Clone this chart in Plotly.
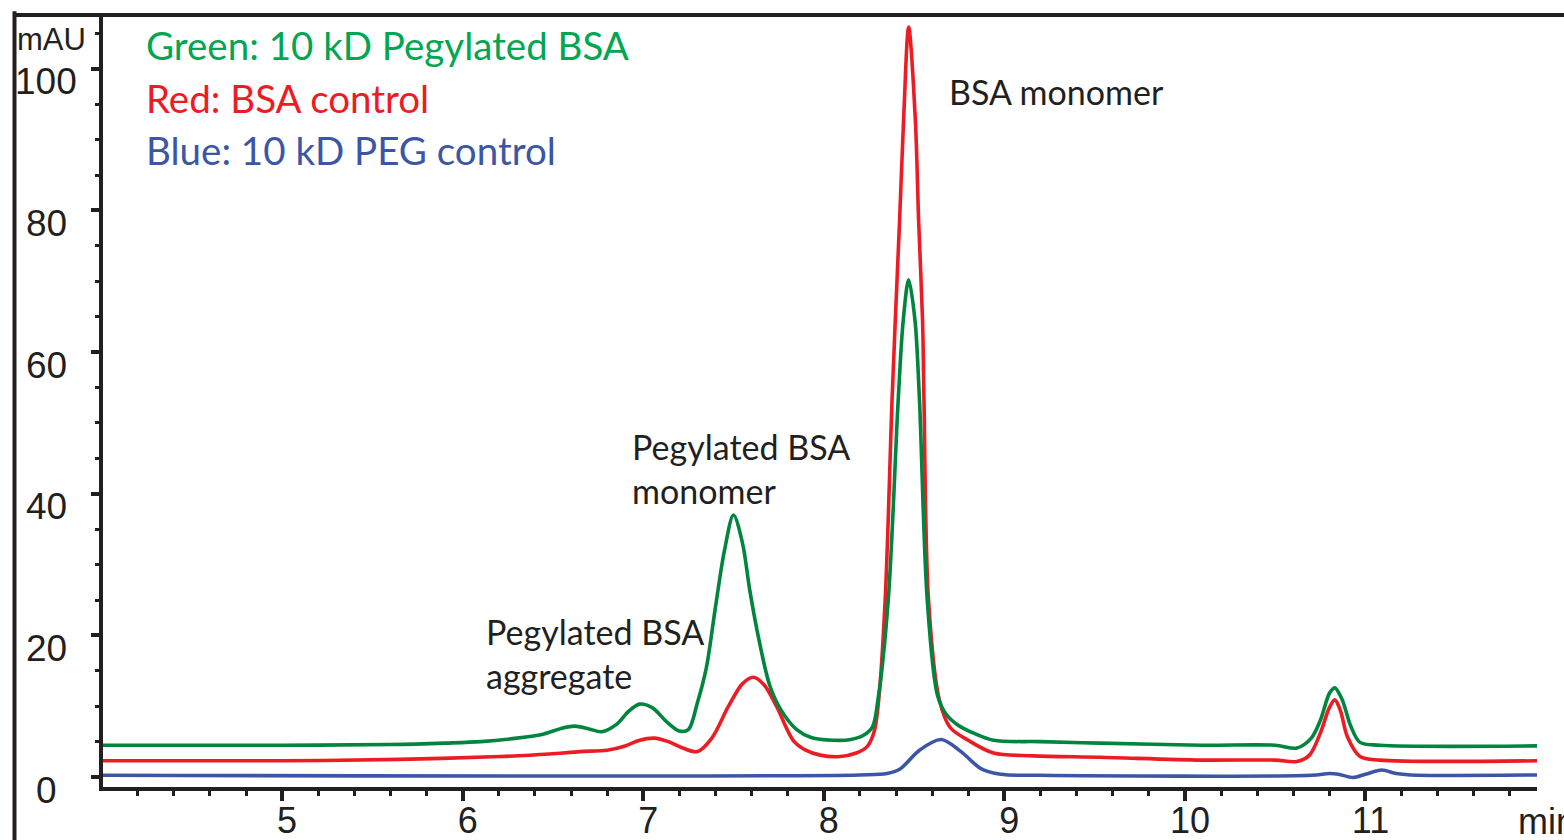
import plotly.graph_objects as go

# ---------------- data (time in min, absorbance in mAU) ----------------
green_t = [4.00, 5.00, 5.60, 5.90, 6.10, 6.30, 6.45, 6.55, 6.62, 6.70, 6.77, 6.85, 6.92, 6.98,
           7.05, 7.13, 7.20, 7.25, 7.30, 7.35, 7.40, 7.45, 7.50, 7.55, 7.59, 7.64, 7.70, 7.76,
           7.85, 7.93, 8.05, 8.15, 8.22, 8.27, 8.30, 8.357, 8.412, 8.44, 8.47, 8.505, 8.53,
           8.573, 8.63, 8.68, 8.74, 8.83, 8.94, 9.20, 9.53, 10.09, 10.50, 10.62, 10.70, 10.75,
           10.80, 10.83, 10.87, 10.92, 10.97, 11.08, 11.95]
green_v = [4.5, 4.5, 4.6, 4.8, 5.0, 5.5, 6.1, 6.9, 7.2, 6.8, 6.4, 7.4, 9.3, 10.3,
           9.8, 7.8, 6.5, 6.7, 10.5, 15.5, 24.0, 32.0, 37.0, 33.0, 26.4, 19.5, 13.0, 9.6,
           6.7, 5.6, 5.2, 5.3, 5.9, 7.1, 10.9, 25.0, 53.2, 64.5, 70.2, 64.5, 53.2,
           25.0, 11.5, 8.8, 7.4, 6.2, 5.2, 5.0, 4.8, 4.5, 4.5, 4.1, 5.5, 8.0,
           11.8, 12.6, 11.0, 7.1, 4.9, 4.5, 4.4]

red_t = [4.00, 5.00, 5.65, 6.21, 6.48, 6.65, 6.80, 6.90, 6.98, 7.06, 7.14, 7.22, 7.30, 7.38,
         7.47, 7.55, 7.61, 7.67, 7.74, 7.83, 7.90, 7.98, 8.09, 8.18, 8.24, 8.28, 8.304, 8.34,
         8.378, 8.396, 8.42, 8.442, 8.47, 8.507, 8.525, 8.547, 8.555, 8.58, 8.64, 8.70, 8.80,
         8.94, 9.16, 9.53, 10.09, 10.50, 10.62, 10.69, 10.75, 10.80, 10.83, 10.86, 10.90,
         10.97, 11.08, 11.95]
red_v = [2.3, 2.3, 2.5, 2.9, 3.25, 3.6, 3.8, 4.4, 5.2, 5.5, 5.0, 4.1, 3.6, 5.5,
         9.9, 13.2, 14.1, 13.0, 9.9, 5.2, 3.8, 3.1, 2.9, 3.4, 4.3, 6.5, 10.9, 25.0,
         53.2, 64.5, 78.7, 92.8, 105.9, 92.8, 78.7, 64.5, 53.2, 25.0, 10.9, 7.0, 5.2,
         3.4, 3.0, 2.8, 2.4, 2.4, 2.2, 3.1, 6.2, 9.8, 10.9, 9.5, 5.7,
         2.9, 2.4, 2.3]

blue_t = [4.00, 8.20, 8.35, 8.42, 8.53, 8.65, 8.76, 8.87, 8.98, 9.20, 10.70, 10.80, 10.85,
          10.93, 11.00, 11.09, 11.17, 11.25, 11.95]
blue_v = [0.25, 0.3, 0.5, 1.1, 3.8, 5.3, 3.6, 1.2, 0.4, 0.25, 0.25, 0.5, 0.4,
          -0.05, 0.4, 1.0, 0.5, 0.3, 0.3]

x_ticks = [5, 6, 7, 8, 9, 10, 11]
y_ticks = [0, 20, 40, 60, 80, 100]
y_tick_labels = ["0", "20", "40", "60", "80", "100"]

legend_lines = ["Green: 10 kD Pegylated BSA", "Red: BSA control", "Blue: 10 kD PEG control"]
peak_labels = ["BSA monomer", "Pegylated BSA<br>monomer", "Pegylated BSA<br>aggregate"]

# ---------------- styles ----------------
INK = "#231f20"
LINE_GREEN = "#00853f"
LINE_RED = "#ed1c24"
LINE_BLUE = "#3c56a6"
TEXT_GREEN = "#00a651"
TICK_FONT = "Liberation Sans, Arial, sans-serif"
LABEL_FONT = "Lato, 'Open Sans', sans-serif"

fig = go.Figure()
for t, v, c in [(blue_t, blue_v, LINE_BLUE), (red_t, red_v, LINE_RED), (green_t, green_v, LINE_GREEN)]:
    fig.add_trace(go.Scatter(x=t, y=v, mode="lines",
                             line=dict(color=c, width=3.6, shape="spline", smoothing=0.9),
                             hoverinfo="skip", showlegend=False))

XR = [4.008, 11.95]
YR = [-1.4, 107.6]

fig.update_layout(
    width=1564, height=840,
    margin=dict(l=103, r=27, t=15, b=53, autoexpand=False),
    paper_bgcolor="white", plot_bgcolor="white",
    showlegend=False,
    xaxis=dict(range=XR, tickvals=x_ticks, ticks="outside", ticklen=10, tickwidth=3.5,
               tickcolor=INK, showline=True, linewidth=3.5, linecolor=INK, showgrid=False,
               zeroline=False, automargin=False,
               tickfont=dict(family=TICK_FONT, size=36, color=INK),
               ticklabelshift=5, ticklabelstandoff=-11,
               minor=dict(dtick=0.2, tick0=0, ticks="outside", ticklen=5, tickwidth=3, tickcolor=INK)),
    yaxis=dict(range=YR, tickvals=y_ticks, ticks="outside", ticklen=8, tickwidth=3.5,
               tickcolor=INK, showline=True, linewidth=4, linecolor=INK, showgrid=False,
               zeroline=False, showticklabels=False, automargin=False,
               minor=dict(dtick=5, tick0=0, ticks="outside", ticklen=4, tickwidth=3, tickcolor=INK)),
)

# outer frame (left and top lines)
fx = (14.5 - 103) / 1434
fig.add_shape(type="line", xref="paper", yref="paper", x0=fx, x1=1.05, y0=1, y1=1,
              line=dict(color=INK, width=4))
fig.add_shape(type="line", xref="paper", yref="paper", x0=fx, x1=fx, y0=1.005, y1=-0.2,
              line=dict(color=INK, width=4))

# y tick labels (placed slightly below their ticks, as in the original)
for v, lab in zip(y_ticks, y_tick_labels):
    fig.add_annotation(x=(46 - 103) / 1434, xref="paper", y=v, yref="y", text=lab,
                       showarrow=False, xanchor="center", yanchor="middle", yshift=-13,
                       font=dict(family=TICK_FONT, size=37, color=INK))

fig.add_annotation(x=(15 - 103) / 1434, xref="paper", y=104.1, yref="y", text="mAU",
                   showarrow=False, xanchor="left", yanchor="middle",
                   font=dict(family=TICK_FONT, size=31, color=INK))
fig.add_annotation(x=(1516 - 103) / 1434, xref="paper", y=-0.045, yref="paper", text="min",
                   showarrow=False, xanchor="left", yanchor="middle",
                   font=dict(family=TICK_FONT, size=36, color=INK))

# legend text
for lab, col, yv in zip(legend_lines, [TEXT_GREEN, LINE_RED, LINE_BLUE], [103.3, 95.9, 88.5]):
    fig.add_annotation(x=4.235, y=yv, xref="x", yref="y", text=lab, showarrow=False,
                       xanchor="left", yanchor="middle",
                       font=dict(family=LABEL_FONT, size=38.5, color=col))

# peak labels
for lab, xv, yv in zip(peak_labels, [8.68, 6.925, 6.12], [96.8, 43.6, 17.4]):
    fig.add_annotation(x=xv, y=yv, xref="x", yref="y", text=lab, showarrow=False,
                       xanchor="left", yanchor="middle", align="left",
                       font=dict(family=LABEL_FONT, size=34, color=INK))

fig.write_html("out.html")
